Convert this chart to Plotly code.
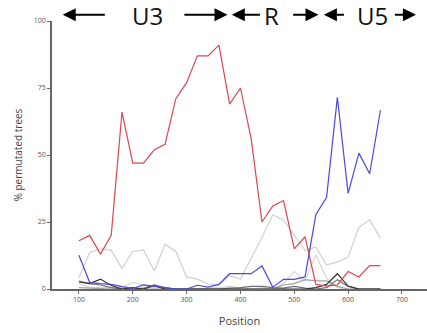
import plotly.graph_objects as go

positions = list(range(100, 661, 20))

red = [18, 20, 13, 20, 66, 47, 47, 52, 54, 71, 77, 87, 87, 91, 69, 75, 56, 25, 31, 33,
       15, 19.5, 1.7, 1.1, 1.5, 6.5, 4.5, 8.7, 8.7]
blue = [12.6, 2.4, 2, 1.7, 0.9, 0.2, 1.5, 1, 0.5, 0, 0, 1.4, 0.7, 1.7, 5.7, 5.7, 5.7, 8.6,
        0.7, 3.6, 3.6, 4.5, 27.7, 34.2, 71.5, 35.7, 50.7, 43, 66.7]
gray_a = [4.2, 13.6, 15, 14.5, 7.6, 14, 14.6, 6.7, 16.7, 14, 4.5, 3.7, 1.9, 1.5, 5, 3.7,
          11.5, 19.2, 27.7, 25.8, 20, 14.4, 15.6, 9, 10, 11.9, 23, 25.8, 19]
gray_b = [2, 0.5, 0.5, 0.5, 0.5, 2.5, 1.5, 0.5, 0.3, 0, 0, 0, 0.3, 0.5, 1, 0.5, 0, 0.5,
          0, 2, 6.5, 3, 12.7, 4, 0.5, 0, 0, 0, 0]
gray_c = [0.5, 0.3, 0.2, 0, 0, 0, 0, 0, 0, 0, 0, 0, 0, 0, 0, 0, 0, 0, 0, 1.5, 2, 3.5, 3,
          3, 1, 0, 0, 0, 0]
dark_e = [3, 2, 1.5, 0.5, 0, 0, 0.3, 1.5, 0.5, 0, 0, 0, 0, 0, 0.3, 0.5, 1, 1, 0.5, 0.3,
          1, 0.3, 0, 0.5, 3.5, 1, 0, 0, 0]
black_d = [2.6, 2, 3.7, 1.3, 0, 0.5, 0, 1.2, 0, 0, 0, 0, 0, 0, 0, 0, 0, 0, 0, 0, 0, 0,
           0.5, 1.7, 5.7, 1.1, 0, 0, 0]

series = [
    (gray_b, "#d6d6d6"),
    (gray_a, "#d0d0d0"),
    (gray_c, "#a0a0a0"),
    (dark_e, "#707070"),
    (black_d, "#333333"),
    (blue, "#4a4ae0"),
    (red, "#dc4650"),
]

x_ticks = [100, 200, 300, 400, 500, 600, 700]
y_ticks = [0, 25, 50, 75, 100]

# region labels and arrow extents (data x positions)
regions = [("U3", 228), ("R", 458), ("U5", 645)]
arrows = [(70, 151), (376, 293), (384, 439), (545, 495), (555, 595), (726, 684)]  # (head, tail)

fig = go.Figure()
for ys, col in series:
    fig.add_trace(go.Scatter(x=positions, y=ys, mode="lines",
                             line=dict(color=col, width=1.2), showlegend=False,
                             hoverinfo="skip"))

font_fam = "Open Sans, DejaVu Sans, sans-serif"
axis_col = "#666666"

fig.update_layout(
    width=427, height=333,
    margin=dict(l=52, r=0, t=21, b=44),
    paper_bgcolor="white", plot_bgcolor="white",
    font=dict(family=font_fam, color="#555555"),
    xaxis=dict(range=[50, 746.5], tickvals=x_ticks, ticks="outside", ticklen=3,
               tickcolor=axis_col, showline=True, linecolor=axis_col, linewidth=1.5,
               showgrid=False, zeroline=False, tickfont=dict(size=7, color="#555555"),
               title=dict(text="Position", font=dict(size=11, color="#444444"), standoff=14)),
    yaxis=dict(range=[0, 100], tickvals=y_ticks, ticks="outside", ticklen=3,
               tickcolor=axis_col, showline=True, linecolor=axis_col, linewidth=1.5,
               showgrid=False, zeroline=False, tickfont=dict(size=7, color="#555555"),
               title=dict(text="% permutated trees", font=dict(size=10, color="#444444"),
                          standoff=9)),
)

px_per_unit = 374.5 / (746.5 - 50)
for text, xc in regions:
    fig.add_annotation(x=xc, y=1.02, xref="x", yref="paper", text=text, showarrow=False,
                       font=dict(size=24, family=font_fam, color="#111111"),
                       yanchor="middle")
for head, tail in arrows:
    fig.add_annotation(x=head, y=1.0235, xref="x", yref="paper", text="",
                       showarrow=True, arrowhead=2, arrowsize=1.3, arrowwidth=2,
                       arrowcolor="#000000", axref="pixel", ayref="pixel",
                       ax=(tail - head) * px_per_unit, ay=0, standoff=0, startstandoff=0)

fig.write_html("out.html")
